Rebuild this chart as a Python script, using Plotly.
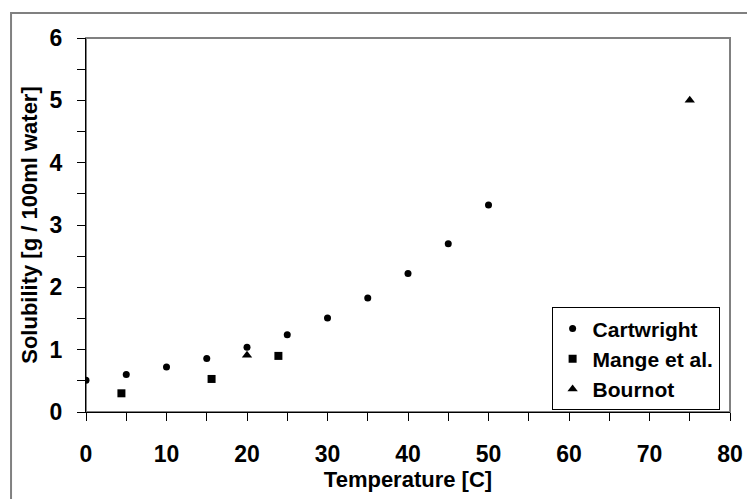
import plotly.graph_objects as go

cart_x = [0, 5, 10, 15, 20, 25, 30, 35, 40, 45, 50]
cart_y = [0.51, 0.60, 0.72, 0.86, 1.04, 1.24, 1.51, 1.83, 2.22, 2.70, 3.32]
mange_x = [4.4, 15.6, 23.9]
mange_y = [0.30, 0.53, 0.90]
bourn_x = [20, 75]
bourn_y = [0.91, 5.0]

FONT = "Liberation Sans, Arial, sans-serif"

fig = go.Figure()
fig.add_trace(go.Scatter(x=cart_x, y=cart_y, mode="markers", name="Cartwright",
                         marker=dict(symbol="circle", size=7, color="black")))
fig.add_trace(go.Scatter(x=mange_x, y=mange_y, mode="markers", name="Mange et al.",
                         marker=dict(symbol="square", size=8, color="black")))
fig.add_trace(go.Scatter(x=bourn_x, y=bourn_y, mode="markers", name="Bournot",
                         marker=dict(symbol="triangle-up", size=9, color="black")))

axis_common = dict(
    showline=True, linecolor="black", linewidth=1,
    ticks="outside", ticklen=8, tickcolor="black", tickwidth=1,
    showgrid=False, zeroline=False,
    tickfont=dict(family=FONT, size=23, color="black", weight="bold"),
)

fig.update_xaxes(range=[0, 80], dtick=10, tick0=0,
                 minor=dict(dtick=5, ticks="outside", ticklen=8, tickcolor="black", showgrid=False),
                 ticklabelstandoff=13,
                 title=dict(text="Temperature [C]", standoff=5,
                            font=dict(family=FONT, size=22, color="black", weight="bold")),
                 **axis_common)
fig.update_yaxes(range=[0, 6], dtick=1, tick0=0,
                 minor=dict(dtick=0.5, ticks="outside", ticklen=8, tickcolor="black", showgrid=False),
                 ticklabelstandoff=10,
                 title=dict(text="Solubility [g / 100ml water]", standoff=5,
                            font=dict(family=FONT, size=22, color="black", weight="bold")),
                 **axis_common)

# plot area frame (gray) and outer chart border
fig.add_shape(type="rect", xref="paper", yref="paper", x0=0, y0=0, x1=1, y1=1,
              line=dict(color="#808080", width=2), layer="below")
fig.add_shape(type="rect", xref="paper", yref="paper", x0=-0.1164, y0=-0.3, x1=1.05, y1=1.0667,
              line=dict(color="#808080", width=2), layer="below")

# the page places the figure 8px in from the top-left corner
fig.update_layout(
    width=747, height=491,
    margin=dict(l=78, r=16, t=30, b=86),
    paper_bgcolor="white", plot_bgcolor="white",
    showlegend=True,
    legend=dict(x=0.723, y=0.28, xanchor="left", yanchor="top",
                bgcolor="white", bordercolor="black", borderwidth=1,
                font=dict(family=FONT, size=21, color="black", weight="bold"),
                itemwidth=30, tracegroupgap=0),
)

fig.write_html("out.html")
